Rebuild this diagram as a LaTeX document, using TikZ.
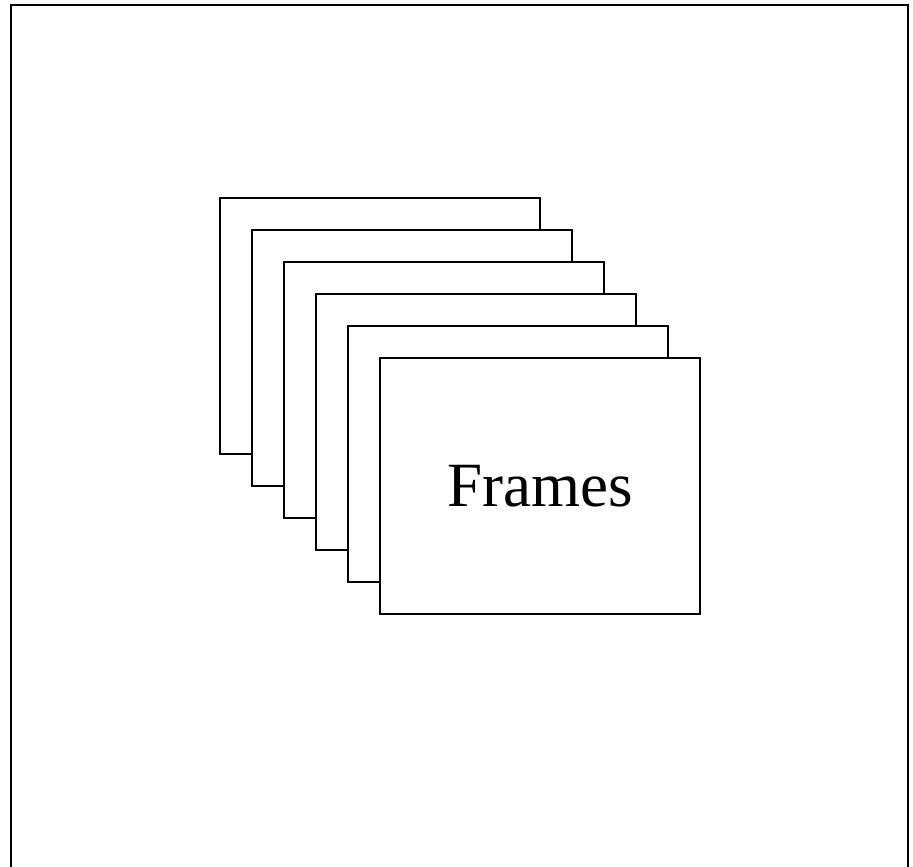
\documentclass[tikz,border=0pt]{standalone}
\usepackage{fontspec}
\setmainfont{Liberation Serif}
\usepackage{tikz}
\usetikzlibrary{positioning}

\begin{document}
\begin{tikzpicture}[x=1pt,y=-1pt,line width=1.6pt,
  frame/.style={draw=black,fill=white,minimum width=320pt,minimum height=256pt,inner sep=0pt,anchor=north west}]
\useasboundingbox (0,0) rectangle (913,867);
\clip (0,0) rectangle (913,867);
\draw (11,5) rectangle (908,880);
\node[frame] (f1) at (219,197) {};
\foreach \i [count=\j from 2] in {1,...,4}
  \node[frame] (f\j) at ([xshift=32pt,yshift=-32pt]f\i.north west) {};
\node[frame,font=\fontsize{63}{70}\selectfont] (f6) at ([xshift=32pt,yshift=-32pt]f5.north west) {Frames};
\end{tikzpicture}
\end{document}
